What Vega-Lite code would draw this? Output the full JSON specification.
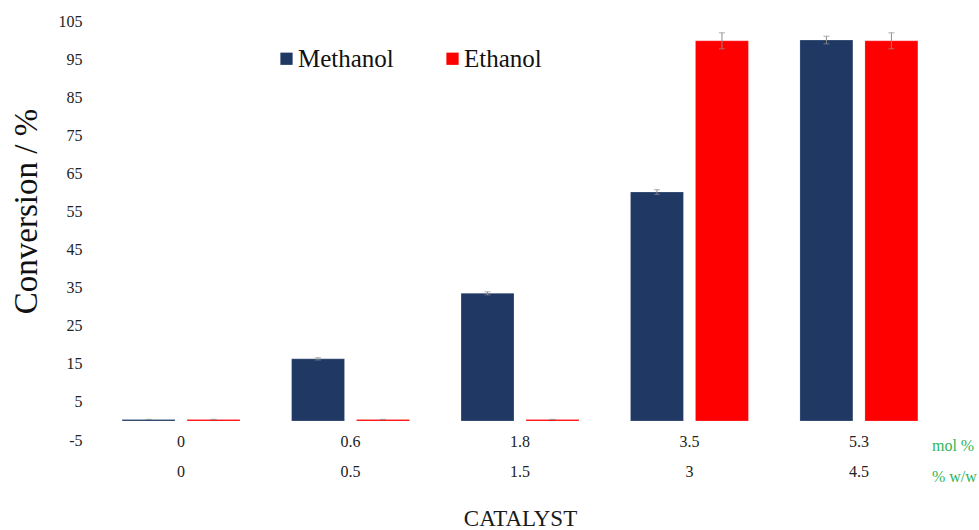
{
  "$schema": "https://vega.github.io/schema/vega-lite/v6.json",
  "width": 850,
  "height": 419,
  "autosize": {"type": "none"},
  "padding": {"left": 95, "top": 21, "right": 34, "bottom": 90},
  "background": "white",
  "config": {
    "view": {"stroke": null},
    "font": "Liberation Serif",
    "axisY": {
      "titleFont": "Liberation Serif",
      "titleFontSize": 33,
      "titleFontWeight": "normal",
      "titleColor": "#111111",
      "titlePadding": 15,
      "titleY": 190,
      "labelOverlap": false,
      "labelFont": "Liberation Serif",
      "labelFontSize": 16,
      "labelColor": "#222222",
      "labelPadding": 13,
      "ticks": false,
      "domain": false,
      "grid": false
    }
  },
  "data": {
    "values": [
      {"catalyst": "0|0", "solvent": "Methanol", "conversion": 0.4, "lo": 0.4, "hi": 0.4},
      {"catalyst": "0|0", "solvent": "Ethanol", "conversion": 0.4, "lo": 0.4, "hi": 0.4},
      {"catalyst": "0.6|0.5", "solvent": "Methanol", "conversion": 16.3, "lo": 16.0, "hi": 16.6},
      {"catalyst": "0.6|0.5", "solvent": "Ethanol", "conversion": 0.4, "lo": 0.4, "hi": 0.4},
      {"catalyst": "1.8|1.5", "solvent": "Methanol", "conversion": 33.5, "lo": 33.1, "hi": 33.9},
      {"catalyst": "1.8|1.5", "solvent": "Ethanol", "conversion": 0.4, "lo": 0.4, "hi": 0.4},
      {"catalyst": "3.5|3", "solvent": "Methanol", "conversion": 60.1, "lo": 59.5, "hi": 60.7},
      {"catalyst": "3.5|3", "solvent": "Ethanol", "conversion": 99.8, "lo": 97.7, "hi": 101.9},
      {"catalyst": "5.3|4.5", "solvent": "Methanol", "conversion": 100.0, "lo": 99.0, "hi": 101.0},
      {"catalyst": "5.3|4.5", "solvent": "Ethanol", "conversion": 99.8, "lo": 97.7, "hi": 101.9}
    ]
  },
  "encoding": {
    "x": {
      "field": "catalyst",
      "type": "nominal",
      "sort": null,
      "scale": {"paddingInner": 0.304, "paddingOuter": 0.16},
      "axis": {
        "title": "CATALYST",
        "titleFont": "Liberation Serif",
        "titleFontSize": 23,
        "titleFontWeight": "normal",
        "titleColor": "#1a1a1a",
        "titlePadding": 28,
        "labelExpr": "split(datum.value, '|')",
        "labelAngle": 0,
        "labelFont": "Liberation Serif",
        "labelFontSize": 16,
        "labelColor": "#222222",
        "labelLineHeight": 30,
        "labelBaseline": "top",
        "labelPadding": -7,
        "ticks": false,
        "domain": false,
        "grid": false
      }
    },
    "xOffset": {
      "field": "solvent",
      "type": "nominal",
      "scale": {"domain": ["Methanol", "Ethanol"], "paddingInner": 0.185, "paddingOuter": 0}
    }
  },
  "layer": [
    {
      "mark": {"type": "bar", "stroke": "#ffffff", "strokeWidth": 0.4, "strokeOpacity": 0.5},
      "encoding": {
        "y": {
          "field": "conversion",
          "type": "quantitative",
          "scale": {"domain": [-5, 105], "nice": false, "zero": false},
          "axis": {
            "title": "Conversion / %",
            "values": [-5, 5, 15, 25, 35, 45, 55, 65, 75, 85, 95, 105],
            "labelExpr": "'' + datum.value"
          }
        },
        "color": {
          "field": "solvent",
          "type": "nominal",
          "scale": {"domain": ["Methanol", "Ethanol"], "range": ["#1f3864", "#ff0000"]},
          "legend": {
            "title": null,
            "orient": "none",
            "direction": "horizontal",
            "legendX": 179,
            "legendY": 25,
            "padding": 0,
            "symbolType": "square",
            "symbolSize": 150,
            "symbolStrokeWidth": 0,
            "labelFont": "Liberation Serif",
            "labelFontSize": 25,
            "labelColor": "#111111",
            "labelOffset": -1,
            "columnPadding": 46
          }
        }
      }
    },
    {
      "mark": {"type": "rule", "color": "#8c8c8c", "strokeWidth": 1},
      "encoding": {
        "y": {
          "field": "lo",
          "type": "quantitative",
          "axis": {
            "title": "Conversion / %",
            "values": [-5, 5, 15, 25, 35, 45, 55, 65, 75, 85, 95, 105],
            "labelExpr": "'' + datum.value"
          }
        },
        "y2": {"field": "hi"}
      }
    },
    {
      "mark": {"type": "tick", "color": "#8c8c8c", "size": 6, "thickness": 1},
      "encoding": {
        "y": {
          "field": "lo",
          "type": "quantitative",
          "axis": {
            "title": "Conversion / %",
            "values": [-5, 5, 15, 25, 35, 45, 55, 65, 75, 85, 95, 105],
            "labelExpr": "'' + datum.value"
          }
        }
      }
    },
    {
      "mark": {"type": "tick", "color": "#8c8c8c", "size": 6, "thickness": 1},
      "encoding": {
        "y": {
          "field": "hi",
          "type": "quantitative",
          "axis": {
            "title": "Conversion / %",
            "values": [-5, 5, 15, 25, 35, 45, 55, 65, 75, 85, 95, 105],
            "labelExpr": "'' + datum.value"
          }
        }
      }
    },
    {
      "data": {"values": [{"units": "mol % / % w/w"}]},
      "mark": {
        "type": "text",
        "text": ["mol %", "% w/w"],
        "lineHeight": 31,
        "align": "left",
        "baseline": "top",
        "dx": 132,
        "dy": -2,
        "font": "Liberation Serif",
        "fontSize": 16,
        "color": "#2fb55a"
      },
      "encoding": {
        "x": {"datum": "5.3|4.5"},
        "xOffset": {"value": 0},
        "y": {
          "datum": -5,
          "axis": {
            "title": "Conversion / %",
            "values": [-5, 5, 15, 25, 35, 45, 55, 65, 75, 85, 95, 105],
            "labelExpr": "'' + datum.value"
          }
        }
      }
    }
  ]
}
